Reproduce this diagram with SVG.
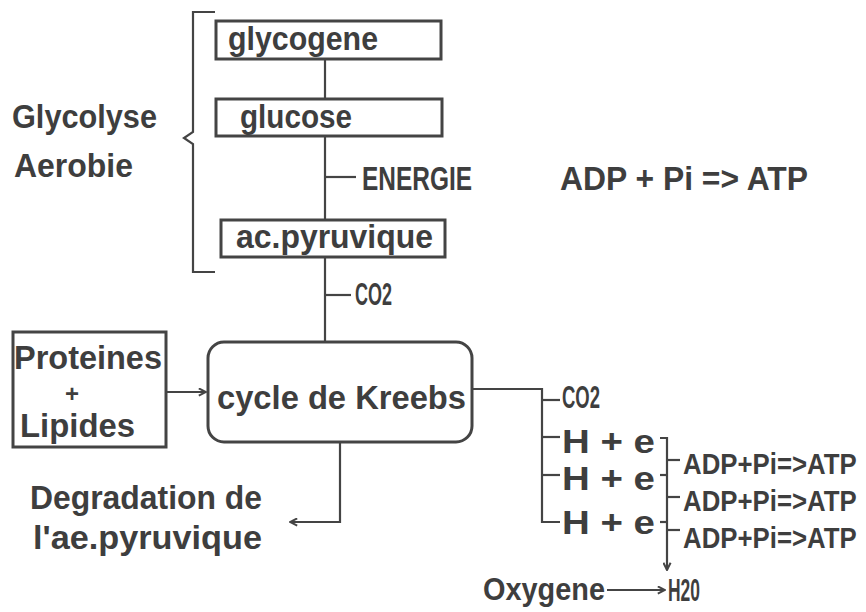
<svg xmlns="http://www.w3.org/2000/svg" width="866" height="612" viewBox="0 0 866 612">
<defs>
<marker id="ah" viewBox="0 0 10 10" refX="9" refY="5" markerWidth="9" markerHeight="9" markerUnits="userSpaceOnUse" orient="auto">
<path d="M1,1 L9,5 L1,9" fill="none" stroke="#444" stroke-width="2.2"/>
</marker>
</defs>
<style>
.t{font-family:"Liberation Sans",Arial,sans-serif;font-weight:bold;fill:#3e3e3e;font-size:33px}
.s{font-size:31px}
.a{font-size:30px}
.p{font-size:24px}
.box{fill:#fff;stroke:#444;stroke-width:3}
.ln{fill:none;stroke:#444;stroke-width:2.2}
</style>
<rect width="866" height="612" fill="#fff"/>
<g id="bracket-glycolyse">
<path class="ln" d="M215,12 L193,12 L193,132 L184,138 L193,144 L193,272 L215,272"/>
<text class="t" x="12" y="128" textLength="145" lengthAdjust="spacingAndGlyphs">Glycolyse</text>
<text class="t" x="14" y="177" textLength="119" lengthAdjust="spacingAndGlyphs">Aerobie</text>
</g>
<g id="connectors">
<path class="ln" d="M325,59 L325,99"/>
<path class="ln" d="M325,136 L325,220"/>
<path class="ln" d="M325,177 L356,177"/>
<path class="ln" d="M325,257 L325,343"/>
<path class="ln" d="M325,295 L351,295"/>
<path class="ln" d="M166,392 L206,392" marker-end="url(#ah)"/>
<path class="ln" d="M340,430 L340,522 L290,522" marker-end="url(#ah)"/>
<path class="ln" d="M472,389 L542,389 L542,522 L560,522"/>
<path class="ln" d="M542,400 L560,400"/>
<path class="ln" d="M542,437 L560,437" stroke-width="3"/>
<path class="ln" d="M542,475 L560,475"/>
<path class="ln" d="M660,438 L667,438 L667,570" marker-end="url(#ah)"/>
<path class="ln" d="M660,475 L667,475"/>
<path class="ln" d="M660,522 L667,522"/>
<path class="ln" d="M667,460 L680,460"/>
<path class="ln" d="M667,497 L680,497"/>
<path class="ln" d="M667,530 L680,530"/>
<path class="ln" d="M607,590 L665,590" marker-end="url(#ah)"/>
</g>
<g id="glycogene">
<rect class="box" x="216" y="21" width="225" height="38"/>
<text class="t" x="228" y="50" textLength="150" lengthAdjust="spacingAndGlyphs">glycogene</text>
</g>
<g id="glucose">
<rect class="box" x="216" y="99" width="226" height="37"/>
<text class="t" x="240" y="128" textLength="112" lengthAdjust="spacingAndGlyphs">glucose</text>
</g>
<g id="energie">
<text class="t" x="362" y="190" textLength="110" lengthAdjust="spacingAndGlyphs">ENERGIE</text>
</g>
<g id="adp-atp-top">
<text class="t" x="560" y="190" textLength="248" lengthAdjust="spacingAndGlyphs">ADP + Pi => ATP</text>
</g>
<g id="pyruvique">
<rect class="box" x="221" y="220" width="224" height="37"/>
<text class="t" x="236" y="248" textLength="197" lengthAdjust="spacingAndGlyphs">ac.pyruvique</text>
</g>
<g id="co2-top">
<text class="t s" x="355" y="305" textLength="37" lengthAdjust="spacingAndGlyphs">CO2</text>
</g>
<g id="proteines">
<rect class="box" x="13" y="332" width="153" height="115"/>
<text class="t" x="14" y="369" textLength="148" lengthAdjust="spacingAndGlyphs">Proteines</text>
<text class="t p" x="72" y="402" text-anchor="middle">+</text>
<text class="t" x="20" y="437" textLength="115" lengthAdjust="spacingAndGlyphs">Lipides</text>
</g>
<g id="kreebs">
<rect class="box" x="208" y="342" width="264" height="100" rx="16"/>
<text class="t" x="217" y="409" textLength="249" lengthAdjust="spacingAndGlyphs">cycle de Kreebs</text>
</g>
<g id="degradation">
<text class="t" x="30" y="509" textLength="232" lengthAdjust="spacingAndGlyphs">Degradation de</text>
<text class="t" x="33" y="549" textLength="229" lengthAdjust="spacingAndGlyphs">l'ae.pyruvique</text>
</g>
<g id="co2-right">
<text class="t s" x="562" y="408" textLength="38" lengthAdjust="spacingAndGlyphs">CO2</text>
</g>
<g id="he-rows">
<text class="t" x="562" y="453" textLength="93" lengthAdjust="spacingAndGlyphs">H + e</text>
<text class="t" x="562" y="490" textLength="93" lengthAdjust="spacingAndGlyphs">H + e</text>
<text class="t" x="562" y="534" textLength="93" lengthAdjust="spacingAndGlyphs">H + e</text>
</g>
<g id="atp-rows">
<text class="t a" transform="translate(683,474) scale(0.86,1)">ADP+Pi=&gt;ATP</text>
<text class="t a" transform="translate(683,511) scale(0.86,1)">ADP+Pi=&gt;ATP</text>
<text class="t a" transform="translate(683,548) scale(0.86,1)">ADP+Pi=&gt;ATP</text>
</g>
<g id="oxygene">
<text class="t s" x="483" y="600" textLength="122" lengthAdjust="spacingAndGlyphs">Oxygene</text>
</g>
<g id="h2o">
<text class="t s" x="668" y="601" textLength="32" lengthAdjust="spacingAndGlyphs">H20</text>
</g>
</svg>
